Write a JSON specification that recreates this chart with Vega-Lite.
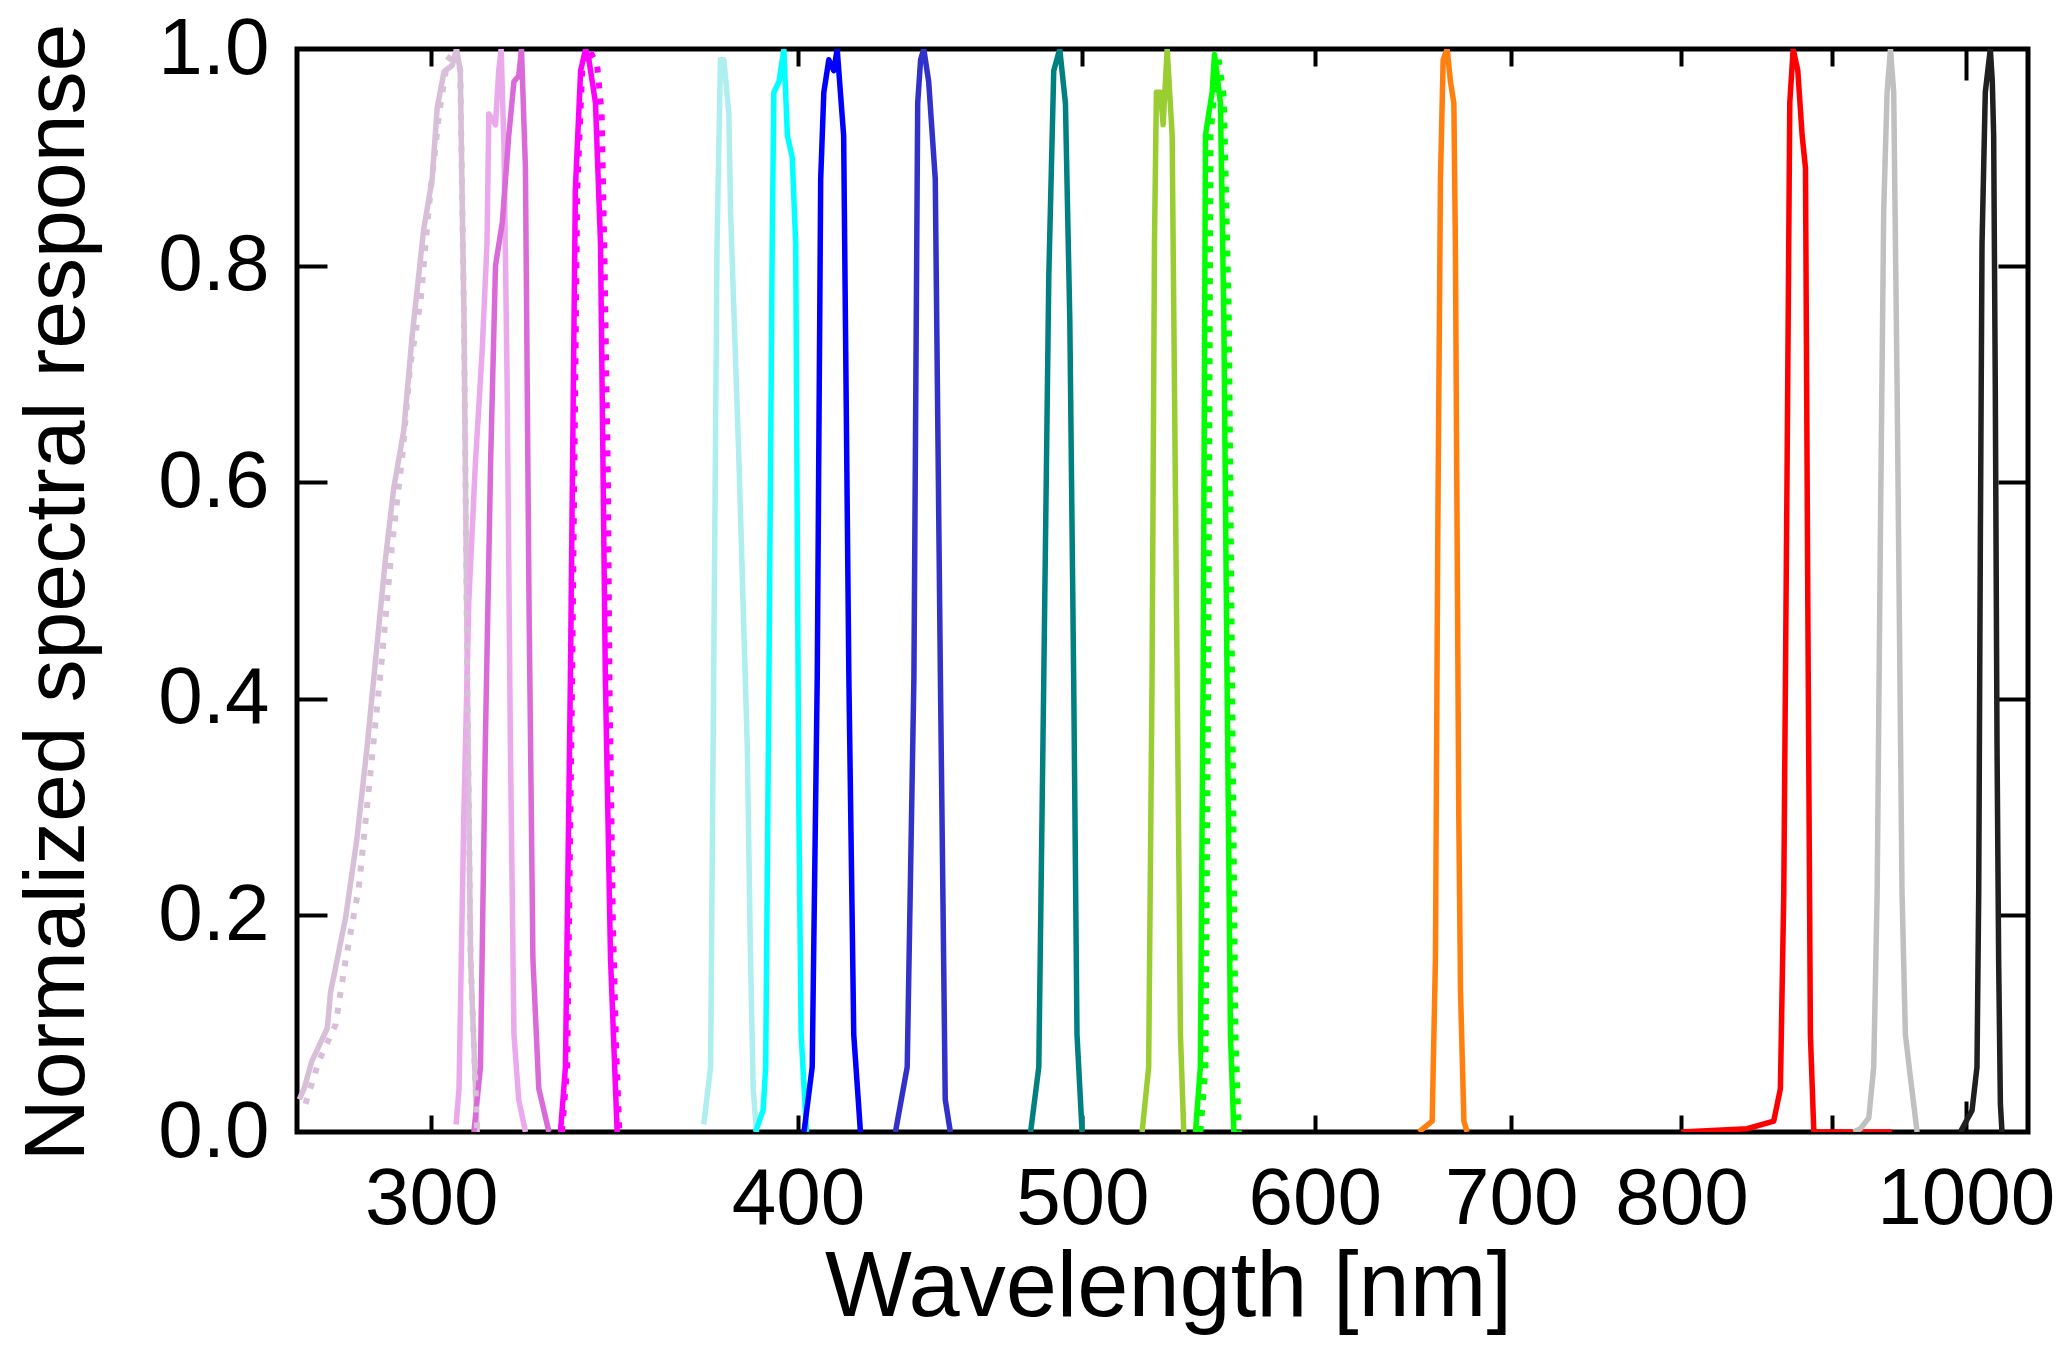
{
  "$schema": "https://vega.github.io/schema/vega-lite/v6.json",
  "width": 1731,
  "height": 1083,
  "autosize": {"type": "none"},
  "padding": {"left": 297, "top": 49, "right": 39, "bottom": 225},
  "background": "white",
  "data": {
    "values": [
      {"s": "thistle", "w": 270.5, "r": 0.03}, {"s": "thistle", "w": 271.5, "r": 0.04}, {"s": "thistle", "w": 273.2, "r": 0.066},
      {"s": "thistle", "w": 274.0, "r": 0.073}, {"s": "thistle", "w": 276.5, "r": 0.096}, {"s": "thistle", "w": 277.2, "r": 0.129},
      {"s": "thistle", "w": 278.3, "r": 0.152}, {"s": "thistle", "w": 280.5, "r": 0.198}, {"s": "thistle", "w": 283.0, "r": 0.271},
      {"s": "thistle", "w": 285.3, "r": 0.357}, {"s": "thistle", "w": 287.5, "r": 0.45}, {"s": "thistle", "w": 289.4, "r": 0.529},
      {"s": "thistle", "w": 291.3, "r": 0.595}, {"s": "thistle", "w": 293.6, "r": 0.648}, {"s": "thistle", "w": 295.5, "r": 0.734},
      {"s": "thistle", "w": 298.2, "r": 0.833}, {"s": "thistle", "w": 300.2, "r": 0.88}, {"s": "thistle", "w": 301.4, "r": 0.946},
      {"s": "thistle", "w": 303.0, "r": 0.979}, {"s": "thistle", "w": 305.0, "r": 0.985}, {"s": "thistle", "w": 306.0, "r": 1.0},
      {"s": "thistle", "w": 306.9, "r": 0.98}, {"s": "thistle", "w": 307.8, "r": 0.75}, {"s": "thistle", "w": 308.6, "r": 0.42},
      {"s": "thistle", "w": 309.4, "r": 0.16}, {"s": "thistle", "w": 311.0, "r": 0.0},

      {"s": "thistle dotted", "w": 271.8, "r": 0.026}, {"s": "thistle dotted", "w": 274.7, "r": 0.066}, {"s": "thistle dotted", "w": 278.3, "r": 0.099},
      {"s": "thistle dotted", "w": 280.5, "r": 0.159}, {"s": "thistle dotted", "w": 283.4, "r": 0.225}, {"s": "thistle dotted", "w": 286.0, "r": 0.331},
      {"s": "thistle dotted", "w": 288.6, "r": 0.437}, {"s": "thistle dotted", "w": 290.9, "r": 0.542}, {"s": "thistle dotted", "w": 293.2, "r": 0.622},
      {"s": "thistle dotted", "w": 295.1, "r": 0.708}, {"s": "thistle dotted", "w": 297.5, "r": 0.767}, {"s": "thistle dotted", "w": 299.4, "r": 0.853},
      {"s": "thistle dotted", "w": 301.8, "r": 0.939}, {"s": "thistle dotted", "w": 303.8, "r": 0.989}, {"s": "thistle dotted", "w": 305.75, "r": 1.0},
      {"s": "thistle dotted", "w": 306.9, "r": 0.98}, {"s": "thistle dotted", "w": 307.8, "r": 0.75}, {"s": "thistle dotted", "w": 308.6, "r": 0.42},
      {"s": "thistle dotted", "w": 309.4, "r": 0.16}, {"s": "thistle dotted", "w": 311.0, "r": 0.0},

      {"s": "lightviolet", "w": 305.9, "r": 0.007}, {"s": "lightviolet", "w": 306.6, "r": 0.04}, {"s": "lightviolet", "w": 307.75, "r": 0.29},
      {"s": "lightviolet", "w": 308.96, "r": 0.49}, {"s": "lightviolet", "w": 310.6, "r": 0.62}, {"s": "lightviolet", "w": 312.2, "r": 0.72},
      {"s": "lightviolet", "w": 313.4, "r": 0.82}, {"s": "lightviolet", "w": 313.85, "r": 0.94}, {"s": "lightviolet", "w": 315.5, "r": 0.93},
      {"s": "lightviolet", "w": 316.3, "r": 0.98}, {"s": "lightviolet", "w": 316.9, "r": 1.0}, {"s": "lightviolet", "w": 317.6, "r": 0.91},
      {"s": "lightviolet", "w": 318.4, "r": 0.69}, {"s": "lightviolet", "w": 319.2, "r": 0.36}, {"s": "lightviolet", "w": 320.1, "r": 0.09},
      {"s": "lightviolet", "w": 321.3, "r": 0.03}, {"s": "lightviolet", "w": 323.0, "r": 0.0},

      {"s": "orchid", "w": 310.2, "r": 0.0}, {"s": "orchid", "w": 311.8, "r": 0.06}, {"s": "orchid", "w": 313.0, "r": 0.36},
      {"s": "orchid", "w": 314.3, "r": 0.62}, {"s": "orchid", "w": 315.5, "r": 0.8}, {"s": "orchid", "w": 317.2, "r": 0.84},
      {"s": "orchid", "w": 318.8, "r": 0.92}, {"s": "orchid", "w": 320.1, "r": 0.97}, {"s": "orchid", "w": 321.3, "r": 0.975},
      {"s": "orchid", "w": 322.0, "r": 1.0}, {"s": "orchid", "w": 323.0, "r": 0.89}, {"s": "orchid", "w": 323.9, "r": 0.49},
      {"s": "orchid", "w": 324.9, "r": 0.16}, {"s": "orchid", "w": 326.4, "r": 0.04}, {"s": "orchid", "w": 329.0, "r": 0.0},

      {"s": "magenta", "w": 332.0, "r": 0.0}, {"s": "magenta", "w": 333.3, "r": 0.06}, {"s": "magenta", "w": 334.6, "r": 0.42},
      {"s": "magenta", "w": 335.9, "r": 0.87}, {"s": "magenta", "w": 337.3, "r": 0.98}, {"s": "magenta", "w": 338.6, "r": 1.0},
      {"s": "magenta", "w": 339.5, "r": 0.99}, {"s": "magenta", "w": 341.25, "r": 0.95}, {"s": "magenta", "w": 342.6, "r": 0.82},
      {"s": "magenta", "w": 343.9, "r": 0.42}, {"s": "magenta", "w": 345.3, "r": 0.16}, {"s": "magenta", "w": 347.1, "r": 0.0},

      {"s": "magenta dotted", "w": 332.4, "r": 0.0}, {"s": "magenta dotted", "w": 333.75, "r": 0.06}, {"s": "magenta dotted", "w": 335.06, "r": 0.42},
      {"s": "magenta dotted", "w": 336.4, "r": 0.87}, {"s": "magenta dotted", "w": 337.7, "r": 0.98}, {"s": "magenta dotted", "w": 339.5, "r": 1.0},
      {"s": "magenta dotted", "w": 341.7, "r": 0.985}, {"s": "magenta dotted", "w": 342.9, "r": 0.94}, {"s": "magenta dotted", "w": 343.7, "r": 0.8},
      {"s": "magenta dotted", "w": 344.6, "r": 0.6}, {"s": "magenta dotted", "w": 345.0, "r": 0.42}, {"s": "magenta dotted", "w": 345.9, "r": 0.2},
      {"s": "magenta dotted", "w": 346.8, "r": 0.08}, {"s": "magenta dotted", "w": 347.7, "r": 0.0},

      {"s": "paleturquoise", "w": 371.5, "r": 0.007}, {"s": "paleturquoise", "w": 373.5, "r": 0.06}, {"s": "paleturquoise", "w": 374.4, "r": 0.42},
      {"s": "paleturquoise", "w": 375.4, "r": 0.82}, {"s": "paleturquoise", "w": 376.4, "r": 0.99}, {"s": "paleturquoise", "w": 377.4, "r": 0.99},
      {"s": "paleturquoise", "w": 378.9, "r": 0.94}, {"s": "paleturquoise", "w": 379.4, "r": 0.85}, {"s": "paleturquoise", "w": 381.9, "r": 0.62},
      {"s": "paleturquoise", "w": 384.4, "r": 0.356}, {"s": "paleturquoise", "w": 385.4, "r": 0.158}, {"s": "paleturquoise", "w": 386.2, "r": 0.04},
      {"s": "paleturquoise", "w": 387.2, "r": 0.0},

      {"s": "cyan", "w": 386.9, "r": 0.0}, {"s": "cyan", "w": 389.2, "r": 0.02}, {"s": "cyan", "w": 390.0, "r": 0.06},
      {"s": "cyan", "w": 391.0, "r": 0.42}, {"s": "cyan", "w": 392.0, "r": 0.82}, {"s": "cyan", "w": 392.5, "r": 0.96},
      {"s": "cyan", "w": 394.1, "r": 0.97}, {"s": "cyan", "w": 395.6, "r": 1.0}, {"s": "cyan", "w": 396.7, "r": 0.92},
      {"s": "cyan", "w": 398.2, "r": 0.9}, {"s": "cyan", "w": 399.3, "r": 0.82}, {"s": "cyan", "w": 399.8, "r": 0.55},
      {"s": "cyan", "w": 400.3, "r": 0.29}, {"s": "cyan", "w": 401.0, "r": 0.09}, {"s": "cyan", "w": 402.7, "r": 0.0},

      {"s": "blue", "w": 401.9, "r": 0.0}, {"s": "blue", "w": 404.5, "r": 0.06}, {"s": "blue", "w": 406.1, "r": 0.42},
      {"s": "blue", "w": 407.2, "r": 0.88}, {"s": "blue", "w": 408.2, "r": 0.96}, {"s": "blue", "w": 409.8, "r": 0.99},
      {"s": "blue", "w": 411.4, "r": 0.98}, {"s": "blue", "w": 412.5, "r": 1.0}, {"s": "blue", "w": 414.6, "r": 0.92},
      {"s": "blue", "w": 416.3, "r": 0.42}, {"s": "blue", "w": 417.9, "r": 0.09}, {"s": "blue", "w": 420.1, "r": 0.0},

      {"s": "mediumblue", "w": 431.8, "r": 0.0}, {"s": "mediumblue", "w": 435.8, "r": 0.06}, {"s": "mediumblue", "w": 438.1, "r": 0.42},
      {"s": "mediumblue", "w": 439.4, "r": 0.95}, {"s": "mediumblue", "w": 440.4, "r": 0.99}, {"s": "mediumblue", "w": 441.5, "r": 1.0},
      {"s": "mediumblue", "w": 443.2, "r": 0.97}, {"s": "mediumblue", "w": 445.5, "r": 0.88}, {"s": "mediumblue", "w": 447.3, "r": 0.42},
      {"s": "mediumblue", "w": 449.0, "r": 0.03}, {"s": "mediumblue", "w": 450.8, "r": 0.0},

      {"s": "teal", "w": 480.1, "r": 0.0}, {"s": "teal", "w": 483.2, "r": 0.06}, {"s": "teal", "w": 485.1, "r": 0.42},
      {"s": "teal", "w": 487.0, "r": 0.79}, {"s": "teal", "w": 488.9, "r": 0.98}, {"s": "teal", "w": 491.2, "r": 1.0},
      {"s": "teal", "w": 493.4, "r": 0.95}, {"s": "teal", "w": 495.1, "r": 0.75}, {"s": "teal", "w": 496.6, "r": 0.42},
      {"s": "teal", "w": 497.9, "r": 0.09}, {"s": "teal", "w": 499.9, "r": 0.0},

      {"s": "yellowgreen", "w": 524.0, "r": 0.0}, {"s": "yellowgreen", "w": 526.7, "r": 0.06}, {"s": "yellowgreen", "w": 528.1, "r": 0.42},
      {"s": "yellowgreen", "w": 529.1, "r": 0.82}, {"s": "yellowgreen", "w": 529.9, "r": 0.96}, {"s": "yellowgreen", "w": 531.6, "r": 0.96},
      {"s": "yellowgreen", "w": 532.7, "r": 0.93}, {"s": "yellowgreen", "w": 534.4, "r": 1.0}, {"s": "yellowgreen", "w": 536.5, "r": 0.92},
      {"s": "yellowgreen", "w": 538.6, "r": 0.42}, {"s": "yellowgreen", "w": 540.0, "r": 0.09}, {"s": "yellowgreen", "w": 541.4, "r": 0.0},

      {"s": "lime", "w": 546.4, "r": 0.0}, {"s": "lime", "w": 548.5, "r": 0.06}, {"s": "lime", "w": 549.7, "r": 0.42},
      {"s": "lime", "w": 550.7, "r": 0.92}, {"s": "lime", "w": 552.1, "r": 0.94}, {"s": "lime", "w": 553.6, "r": 0.96},
      {"s": "lime", "w": 554.6, "r": 0.995}, {"s": "lime", "w": 557.2, "r": 0.95}, {"s": "lime", "w": 558.7, "r": 0.75},
      {"s": "lime", "w": 560.1, "r": 0.42}, {"s": "lime", "w": 561.6, "r": 0.09}, {"s": "lime", "w": 563.1, "r": 0.0},

      {"s": "lime dotted", "w": 548.5, "r": 0.0}, {"s": "lime dotted", "w": 550.7, "r": 0.06}, {"s": "lime dotted", "w": 551.9, "r": 0.42},
      {"s": "lime dotted", "w": 552.9, "r": 0.92}, {"s": "lime dotted", "w": 555.1, "r": 0.975}, {"s": "lime dotted", "w": 556.5, "r": 0.99},
      {"s": "lime dotted", "w": 558.7, "r": 0.955}, {"s": "lime dotted", "w": 560.9, "r": 0.75}, {"s": "lime dotted", "w": 562.3, "r": 0.42},
      {"s": "lime dotted", "w": 563.8, "r": 0.09}, {"s": "lime dotted", "w": 565.3, "r": 0.0},

      {"s": "orange", "w": 651.1, "r": 0.0}, {"s": "orange", "w": 657.9, "r": 0.01}, {"s": "orange", "w": 659.6, "r": 0.16},
      {"s": "orange", "w": 660.8, "r": 0.55}, {"s": "orange", "w": 662.2, "r": 0.88}, {"s": "orange", "w": 663.6, "r": 0.99},
      {"s": "orange", "w": 665.7, "r": 1.0}, {"s": "orange", "w": 667.4, "r": 0.97}, {"s": "orange", "w": 669.2, "r": 0.95},
      {"s": "orange", "w": 670.0, "r": 0.82}, {"s": "orange", "w": 671.8, "r": 0.29}, {"s": "orange", "w": 672.7, "r": 0.13},
      {"s": "orange", "w": 674.5, "r": 0.01}, {"s": "orange", "w": 676.2, "r": 0.0},

      {"s": "red", "w": 800.0, "r": 0.0}, {"s": "red", "w": 842.3, "r": 0.003}, {"s": "red", "w": 860.1, "r": 0.01},
      {"s": "red", "w": 864.6, "r": 0.04}, {"s": "red", "w": 866.9, "r": 0.22}, {"s": "red", "w": 869.2, "r": 0.62},
      {"s": "red", "w": 871.0, "r": 0.95}, {"s": "red", "w": 873.3, "r": 1.0}, {"s": "red", "w": 876.5, "r": 0.98},
      {"s": "red", "w": 879.5, "r": 0.92}, {"s": "red", "w": 881.8, "r": 0.89}, {"s": "red", "w": 883.4, "r": 0.49},
      {"s": "red", "w": 885.2, "r": 0.09}, {"s": "red", "w": 887.6, "r": 0.0}, {"s": "red", "w": 943.8, "r": 0.0},

      {"s": "silver", "w": 915.8, "r": 0.0}, {"s": "silver", "w": 920.6, "r": 0.003}, {"s": "silver", "w": 926.7, "r": 0.013},
      {"s": "silver", "w": 930.3, "r": 0.06}, {"s": "silver", "w": 932.8, "r": 0.22}, {"s": "silver", "w": 935.2, "r": 0.555},
      {"s": "silver", "w": 937.6, "r": 0.85}, {"s": "silver", "w": 940.1, "r": 0.96}, {"s": "silver", "w": 942.6, "r": 1.0},
      {"s": "silver", "w": 945.0, "r": 0.96}, {"s": "silver", "w": 947.5, "r": 0.69}, {"s": "silver", "w": 951.2, "r": 0.22},
      {"s": "silver", "w": 953.7, "r": 0.09}, {"s": "silver", "w": 957.5, "r": 0.05}, {"s": "silver", "w": 962.5, "r": 0.0},

      {"s": "black", "w": 995.7, "r": 0.0}, {"s": "black", "w": 1004.9, "r": 0.02}, {"s": "black", "w": 1008.8, "r": 0.06},
      {"s": "black", "w": 1010.2, "r": 0.224}, {"s": "black", "w": 1011.5, "r": 0.554}, {"s": "black", "w": 1012.8, "r": 0.82},
      {"s": "black", "w": 1015.4, "r": 0.96}, {"s": "black", "w": 1019.4, "r": 1.0}, {"s": "black", "w": 1021.0, "r": 0.97},
      {"s": "black", "w": 1022.1, "r": 0.92}, {"s": "black", "w": 1023.4, "r": 0.687}, {"s": "black", "w": 1024.8, "r": 0.356},
      {"s": "black", "w": 1026.1, "r": 0.158}, {"s": "black", "w": 1027.5, "r": 0.026}, {"s": "black", "w": 1028.8, "r": 0.0}
    ]
  },
  "encoding": {
    "color": {
      "field": "s",
      "type": "nominal",
      "scale": {
        "domain": ["thistle", "thistle dotted", "lightviolet", "orchid", "magenta", "magenta dotted", "paleturquoise", "cyan", "blue", "mediumblue", "teal", "yellowgreen", "lime", "lime dotted", "orange", "red", "silver", "black"],
        "range": ["#D8BFD8", "#D8BFD8", "#EAA9EA", "#DA6AD8", "#FF00FF", "#FF00FF", "#AFEEEE", "#00FFFF", "#0000FF", "#3232C8", "#008080", "#9ACD32", "#00FF00", "#00FF00", "#FF7F0F", "#FF0000", "#C0C0C0", "#202020"]
      },
      "legend": null
    }
  },
  "layer": [
    {
      "transform": [{"filter": {"field": "s", "oneOf": ["thistle", "lightviolet", "orchid", "magenta"]}}],
      "mark": {"type": "line", "strokeWidth": 5.5, "strokeJoin": "round", "clip": true},
      "encoding": {
        "x": {
          "field": "w", "type": "quantitative",
          "scale": {"type": "log", "domain": [270, 1050], "nice": false},
          "axis": {
            "orient": "bottom", "values": [300, 400, 500, 600, 700, 800, 1000], "format": "d",
            "ticks": false, "tickSize": 0, "domain": false, "grid": false,
            "labelFontSize": 80, "labelPadding": 28, "labelFlush": false, "labelOverlap": false,
            "labelColor": "black", "labelBaseline": "top",
            "title": "Wavelength [nm]", "titleFontSize": 92, "titleFontWeight": "normal", "titleColor": "black",
            "titleX": 871, "titleY": 110, "titleBaseline": "top", "titleAlign": "center"
          }
        },
        "y": {
          "field": "r", "type": "quantitative",
          "scale": {"domain": [0, 1], "nice": false},
          "axis": {
            "orient": "left", "values": [0, 0.2, 0.4, 0.6, 0.8, 1], "format": ".1f",
            "ticks": false, "tickSize": 0, "domain": false, "grid": false,
            "labelFontSize": 80, "labelPadding": 28, "labelFlush": false, "labelColor": "black",
            "title": "Normalized spectral response", "titleFontSize": 86, "titleFontWeight": "normal", "titleColor": "black",
            "titleX": -196, "titleY": 543, "titleAngle": -90, "titleAlign": "center", "titleBaseline": "bottom"
          }
        }
      }
    },
    {
      "transform": [{"filter": {"field": "s", "oneOf": ["thistle dotted", "magenta dotted", "lime dotted"]}}],
      "mark": {"type": "line", "strokeWidth": 6, "strokeDash": [6, 10], "clip": true},
      "encoding": {
        "x": {
          "field": "w", "type": "quantitative",
          "scale": {"type": "log", "domain": [270, 1050], "nice": false},
          "axis": {
            "orient": "bottom", "values": [300, 400, 500, 600, 700, 800, 900],
            "labels": false, "title": null, "domain": false, "grid": false,
            "ticks": true, "tickSize": -17, "tickWidth": 4, "tickColor": "black"
          }
        },
        "y": {
          "field": "r", "type": "quantitative",
          "scale": {"domain": [0, 1], "nice": false},
          "axis": {
            "orient": "left", "values": [0.2, 0.4, 0.6, 0.8],
            "labels": false, "title": null, "domain": false, "grid": false,
            "ticks": true, "tickSize": -30, "tickWidth": 4, "tickColor": "black"
          }
        }
      }
    },
    {
      "transform": [{"filter": {"field": "s", "oneOf": ["paleturquoise", "cyan", "blue", "mediumblue", "teal"]}}],
      "mark": {"type": "line", "strokeWidth": 5.5, "strokeJoin": "round", "clip": true},
      "encoding": {
        "x": {
          "field": "w", "type": "quantitative",
          "scale": {"type": "log", "domain": [270, 1050], "nice": false},
          "axis": {
            "orient": "top", "values": [300, 400, 500, 600, 700, 800, 900],
            "labels": false, "title": null, "domain": false, "grid": false,
            "ticks": true, "tickSize": -17, "tickWidth": 4, "tickColor": "black"
          }
        },
        "y": {
          "field": "r", "type": "quantitative",
          "scale": {"domain": [0, 1], "nice": false},
          "axis": {
            "orient": "right", "values": [0.2, 0.4, 0.6, 0.8],
            "labels": false, "title": null, "domain": false, "grid": false,
            "ticks": true, "tickSize": -30, "tickWidth": 4, "tickColor": "black"
          }
        }
      }
    },
    {
      "transform": [{"filter": {"field": "s", "oneOf": ["yellowgreen", "lime", "orange"]}}],
      "mark": {"type": "line", "strokeWidth": 5.5, "strokeJoin": "round", "clip": true},
      "encoding": {
        "x": {
          "field": "w", "type": "quantitative",
          "scale": {"type": "log", "domain": [270, 1050], "nice": false},
          "axis": {
            "orient": "bottom", "values": [1000],
            "labels": false, "title": null, "domain": false, "grid": false,
            "ticks": true, "tickSize": -31, "tickWidth": 4, "tickColor": "black"
          }
        },
        "y": {
          "field": "r", "type": "quantitative",
          "scale": {"domain": [0, 1], "nice": false},
          "axis": null
        }
      }
    },
    {
      "transform": [{"filter": {"field": "s", "oneOf": ["red", "silver", "black"]}}],
      "mark": {"type": "line", "strokeWidth": 5.5, "strokeJoin": "round", "clip": true},
      "encoding": {
        "x": {
          "field": "w", "type": "quantitative",
          "scale": {"type": "log", "domain": [270, 1050], "nice": false},
          "axis": {
            "orient": "top", "values": [1000],
            "labels": false, "title": null, "domain": false, "grid": false,
            "ticks": true, "tickSize": -31, "tickWidth": 4, "tickColor": "black"
          }
        },
        "y": {
          "field": "r", "type": "quantitative",
          "scale": {"domain": [0, 1], "nice": false},
          "axis": null
        }
      }
    }
  ],
  "resolve": {"axis": {"x": "independent", "y": "independent"}},
  "config": {
    "font": "Liberation Sans",
    "view": {"stroke": "black", "strokeWidth": 5},
    "axis": {"grid": false, "domain": false}
  }
}
